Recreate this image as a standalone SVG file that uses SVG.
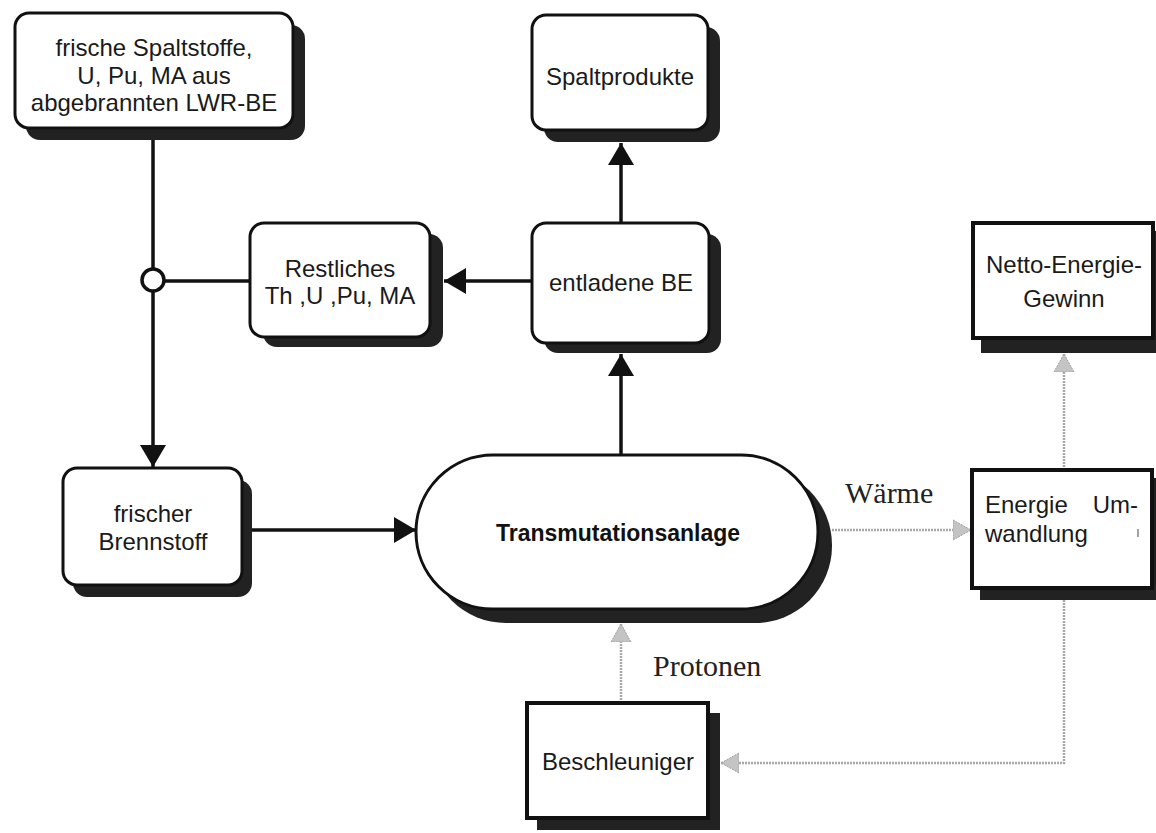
<svg xmlns="http://www.w3.org/2000/svg" width="1156" height="833" viewBox="0 0 1156 833">
<style>
.shadow{fill:#222;}
.box{fill:#fff;stroke:#111;stroke-width:3;}
.sbox{fill:#fff;stroke:#111;stroke-width:4;}
.t{font-family:"Liberation Sans",Arial,sans-serif;font-size:24px;fill:#1a1a1a;text-anchor:middle;}
.tb{font-family:"Liberation Sans",Arial,sans-serif;font-size:23px;font-weight:bold;fill:#111;text-anchor:middle;}
.ser{font-family:"Liberation Serif","Times New Roman",serif;font-size:30px;fill:#222;}
.blk{fill:none;stroke:#111;stroke-width:3.5;}
.gry{fill:none;stroke:#a8a8a8;stroke-width:2.5;stroke-dasharray:2 1;}
</style>
<defs>
<marker id="ab" markerUnits="userSpaceOnUse" markerWidth="24" markerHeight="26" refX="22" refY="13" orient="auto">
<path d="M0,0 L22,13 L0,26 Z" fill="#111"/>
</marker>
<marker id="ag" markerUnits="userSpaceOnUse" markerWidth="20" markerHeight="22" refX="18" refY="11" orient="auto">
<path d="M0,1 L18,11 L0,21 Z" fill="#c4c4c4" stroke="#a0a0a0" stroke-width="1" stroke-dasharray="2 1"/>
</marker>
</defs>

<g id="connectors">
<line class="blk" x1="153" y1="140" x2="153" y2="269"/>
<line class="blk" x1="153" y1="291" x2="153" y2="467" marker-end="url(#ab)"/>
<line class="blk" x1="250" y1="281" x2="164" y2="281"/>
<line class="blk" x1="532" y1="281" x2="444" y2="281" marker-end="url(#ab)"/>
<line class="blk" x1="621" y1="223" x2="621" y2="143" marker-end="url(#ab)"/>
<line class="blk" x1="621" y1="455" x2="621" y2="354" marker-end="url(#ab)"/>
<line class="blk" x1="252" y1="530" x2="416" y2="530" marker-end="url(#ab)"/>
<line class="gry" x1="832" y1="530" x2="971" y2="530" marker-end="url(#ag)"/>
<line class="gry" x1="1064" y1="470" x2="1064" y2="354" marker-end="url(#ag)"/>
<polyline class="gry" points="1064,600 1064,763 721,763" marker-end="url(#ag)"/>
<line class="gry" x1="621" y1="703" x2="621" y2="624" marker-end="url(#ag)"/>
<circle cx="153" cy="280" r="11" fill="#fff" stroke="#111" stroke-width="3.5"/>
</g>

<g id="node-frische-spaltstoffe">
<rect class="shadow" x="26" y="25" width="279" height="115" rx="14"/>
<rect class="box" x="15" y="13" width="278" height="115" rx="14"/>
<text class="t" x="154" y="56">frische Spaltstoffe,</text>
<text class="t" x="154" y="84">U, Pu, MA aus</text>
<text class="t" x="154" y="111">abgebrannten LWR-BE</text>
</g>

<g id="node-spaltprodukte">
<rect class="shadow" x="544" y="27" width="176" height="115" rx="14"/>
<rect class="box" x="532" y="15" width="176" height="115" rx="14"/>
<text class="t" x="620" y="85">Spaltprodukte</text>
</g>

<g id="node-entladene-be">
<rect class="shadow" x="544" y="234" width="177" height="119" rx="14"/>
<rect class="box" x="532" y="223" width="177" height="120" rx="14"/>
<text class="t" x="621" y="291">entladene BE</text>
</g>

<g id="node-restliches">
<rect class="shadow" x="263" y="234" width="180" height="113" rx="14"/>
<rect class="box" x="250" y="223" width="180" height="114" rx="14"/>
<text class="t" x="340" y="277">Restliches</text>
<text class="t" x="340" y="304">Th ,U ,Pu, MA</text>
</g>

<g id="node-frischer-brennstoff">
<rect class="shadow" x="73" y="480" width="179" height="117" rx="14"/>
<rect class="box" x="63" y="468" width="179" height="117" rx="14"/>
<text class="t" x="153" y="522">frischer</text>
<text class="t" x="153" y="550">Brennstoff</text>
</g>

<g id="node-transmutationsanlage">
<rect class="shadow" x="429" y="468" width="403" height="155" rx="77"/>
<rect class="box" x="416" y="455" width="402" height="154" rx="77"/>
<text class="tb" x="618" y="541">Transmutationsanlage</text>
</g>

<g id="label-waerme">
<text class="ser" x="845" y="503">Wärme</text>
</g>

<g id="node-energie-umwandlung">
<rect class="shadow" x="980" y="478" width="176" height="122"/>
<rect class="sbox" x="972" y="470" width="180" height="118"/>
<text class="t" x="985" y="513" style="text-anchor:start">Energie</text>
<text class="t" x="1138" y="513" style="text-anchor:end">Um-</text>
<text class="t" x="985" y="542" style="text-anchor:start">wandlung</text>
<line x1="1138" y1="529" x2="1138" y2="537" stroke="#444" stroke-width="1"/>
</g>

<g id="node-netto-energie-gewinn">
<rect class="shadow" x="981" y="231" width="175" height="122"/>
<rect class="sbox" x="973" y="223" width="180" height="115"/>
<text class="t" x="1064" y="273">Netto-Energie-</text>
<text class="t" x="1064" y="307">Gewinn</text>
</g>

<g id="label-protonen">
<text class="ser" x="653" y="676">Protonen</text>
</g>

<g id="node-beschleuniger">
<rect class="shadow" x="537" y="713" width="183" height="117"/>
<rect class="sbox" x="527" y="703" width="181" height="115"/>
<text class="t" x="618" y="770">Beschleuniger</text>
</g>
</svg>
